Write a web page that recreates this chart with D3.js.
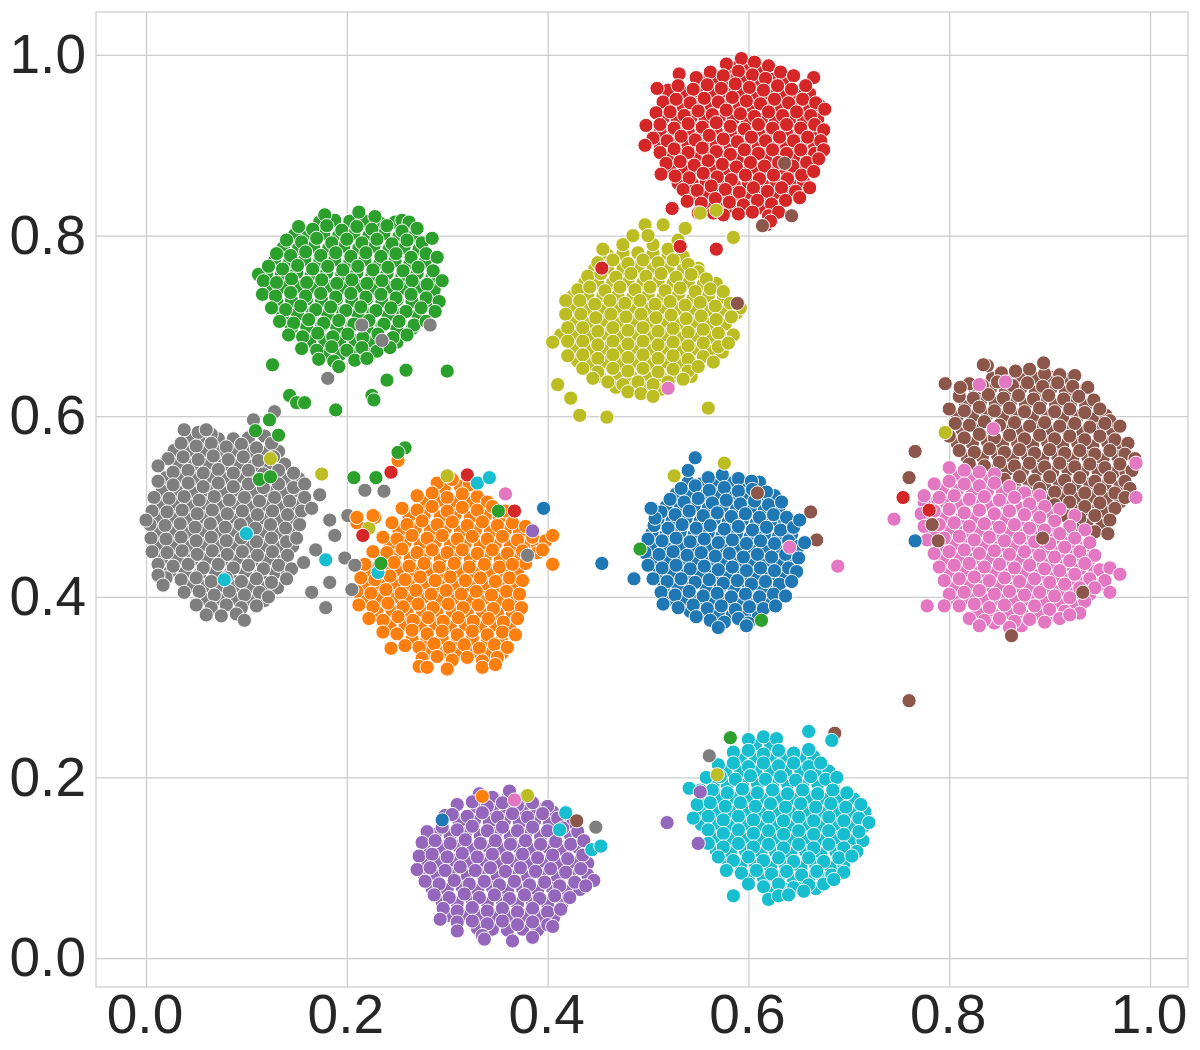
<!DOCTYPE html>
<html>
<head>
<meta charset="utf-8">
<script src="https://d3js.org/d3.v7.min.js"></script>
<style>
  html, body { margin: 0; padding: 0; background: #fff; }
  text { font-family: "Liberation Sans", Arial, sans-serif; }
</style>
</head>
<body>
<div id="chart"></div>
<script>
const tickValues = [0.0, 0.2, 0.4, 0.6, 0.8, 1.0];
const palette = ["#1f77b4", "#ff7f0e", "#2ca02c", "#d62728", "#9467bd", "#8c564b", "#e377c2", "#7f7f7f", "#bcbd22", "#17becf"];

// values, one list per class
const c0 = [[.56,.532],[.574,.535],[.59,.531],[.603,.528],[.533,.52],[.547,.523],[.561,.518],[.576,.521],[.59,.517],[.604,.519],[.618,.516],[.522,.508],[.536,.505],[.55,.509],[.564,.504],[.578,.507],[.592,.503],[.606,.506],[.62,.502],[.633,.505],[.513,.494],[.527,.491],[.541,.495],[.555,.49],[.569,.493],[.583,.489],[.597,.492],[.611,.488],[.625,.491],[.638,.488],[.506,.479],[.52,.476],[.534,.48],[.548,.476],[.562,.479],[.576,.475],[.59,.478],[.604,.474],[.618,.477],[.632,.474],[.645,.477],[.5,.464],[.514,.462],[.528,.465],[.542,.461],[.556,.464],[.57,.46],[.584,.463],[.598,.459],[.612,.462],[.626,.459],[.64,.462],[.65,.456],[.497,.449],[.511,.447],[.525,.45],[.539,.446],[.553,.449],[.567,.445],[.581,.448],[.595,.444],[.609,.447],[.623,.444],[.637,.447],[.65,.443],[.5,.435],[.514,.432],[.528,.435],[.542,.431],[.556,.434],[.57,.43],[.584,.433],[.598,.429],[.612,.432],[.626,.429],[.64,.432],[.648,.428],[.505,.42],[.519,.417],[.533,.42],[.547,.416],[.561,.419],[.575,.415],[.589,.418],[.603,.414],[.617,.417],[.631,.414],[.643,.417],[.513,.405],[.527,.402],[.541,.406],[.555,.401],[.569,.404],[.583,.4],[.597,.403],[.611,.4],[.625,.403],[.637,.401],[.515,.392],[.53,.388],[.545,.391],[.559,.387],[.573,.39],[.587,.386],[.601,.389],[.615,.387],[.627,.39],[.548,.378],[.562,.374],[.576,.372],[.59,.376],[.6,.371],[.57,.366],[.598,.368],[.507,.487],[.503,.498]];
const c0Fill = [[.54,.527],[.553,.525],[.568,.528],[.583,.526],[.597,.524],[.611,.527],[.528,.514],[.542,.515],[.556,.512],[.57,.514],[.584,.511],[.598,.513],[.612,.51],[.626,.512],[.518,.5],[.532,.498],[.546,.501],[.56,.498],[.574,.5],[.588,.497],[.602,.499],[.616,.496],[.63,.498],[.51,.486],[.524,.484],[.538,.487],[.552,.484],[.566,.486],[.58,.483],[.594,.485],[.608,.482],[.622,.484],[.636,.482],[.504,.471],[.518,.469],[.532,.472],[.546,.469],[.56,.471],[.574,.468],[.588,.47],[.602,.467],[.616,.469],[.63,.467],[.643,.469],[.504,.456],[.518,.454],[.532,.457],[.546,.454],[.56,.456],[.574,.453],[.588,.455],[.602,.452],[.616,.454],[.63,.452],[.644,.454],[.506,.441],[.52,.44],[.534,.442],[.548,.439],[.562,.441],[.576,.438],[.59,.44],[.604,.437],[.618,.44],[.632,.437],[.645,.439],[.51,.427],[.524,.425],[.538,.427],[.552,.424],[.566,.426],[.58,.423],[.594,.425],[.608,.422],[.622,.425],[.636,.422],[.516,.412],[.53,.41],[.544,.413],[.558,.409],[.572,.411],[.586,.408],[.6,.41],[.614,.408],[.628,.41],[.522,.397],[.536,.395],[.55,.398],[.564,.394],[.578,.396],[.592,.393],[.606,.396],[.62,.394],[.542,.384],[.556,.381],[.57,.383],[.584,.38],[.598,.382],[.61,.38]];
const c1 = [[.29,.526],[.305,.53],[.322,.524],[.27,.512],[.285,.515],[.3,.51],[.315,.514],[.33,.511],[.34,.505],[.255,.498],[.27,.496],[.285,.5],[.3,.495],[.315,.499],[.33,.496],[.345,.5],[.358,.495],[.245,.482],[.26,.48],[.275,.484],[.29,.48],[.305,.483],[.32,.479],[.335,.483],[.35,.479],[.365,.482],[.378,.478],[.236,.466],[.25,.464],[.265,.468],[.28,.465],[.295,.468],[.31,.464],[.325,.467],[.34,.464],[.355,.467],[.37,.463],[.385,.466],[.398,.462],[.226,.45],[.24,.449],[.255,.453],[.27,.449],[.285,.452],[.3,.449],[.315,.452],[.33,.448],[.345,.452],[.36,.448],[.375,.451],[.39,.449],[.378,.437],[.218,.436],[.232,.434],[.247,.438],[.262,.434],[.277,.437],[.292,.433],[.307,.437],[.322,.433],[.337,.436],[.352,.433],[.365,.436],[.214,.421],[.228,.419],[.243,.423],[.258,.419],[.273,.422],[.288,.418],[.303,.422],[.318,.418],[.333,.421],[.348,.417],[.362,.421],[.375,.418],[.21,.406],[.224,.404],[.239,.408],[.254,.404],[.269,.407],[.284,.403],[.299,.407],[.314,.403],[.329,.406],[.344,.402],[.359,.406],[.372,.403],[.212,.391],[.226,.389],[.241,.393],[.256,.389],[.271,.392],[.286,.388],[.301,.392],[.316,.388],[.331,.391],[.346,.387],[.361,.391],[.374,.388],[.222,.376],[.236,.374],[.251,.378],[.266,.374],[.281,.377],[.296,.373],[.311,.377],[.326,.373],[.341,.376],[.356,.372],[.37,.376],[.236,.361],[.25,.359],[.265,.363],[.28,.359],[.295,.362],[.31,.358],[.325,.362],[.34,.358],[.355,.361],[.368,.358],[.258,.346],[.272,.344],[.287,.348],[.302,.344],[.317,.347],[.332,.343],[.347,.347],[.36,.344],[.275,.332],[.29,.334],[.305,.33],[.32,.333],[.335,.329],[.35,.333],[.272,.323],[.28,.322],[.3,.32],[.335,.322],[.348,.325],[.395,.452],[.405,.468],[.228,.488],[.21,.482]];
const c1Fill = [[.297,.52],[.313,.522],[.278,.505],[.292,.507],[.308,.505],[.323,.506],[.336,.503],[.262,.489],[.277,.49],[.293,.489],[.308,.491],[.323,.488],[.338,.49],[.352,.488],[.252,.473],[.268,.475],[.283,.473],[.298,.475],[.313,.472],[.328,.474],[.343,.472],[.358,.474],[.372,.472],[.243,.458],[.258,.46],[.273,.458],[.288,.46],[.303,.457],[.318,.459],[.333,.457],[.348,.459],[.363,.457],[.378,.459],[.39,.457],[.233,.443],[.248,.445],[.263,.443],[.278,.445],[.293,.442],[.308,.444],[.323,.442],[.338,.444],[.353,.442],[.368,.444],[.222,.428],[.237,.428],[.252,.43],[.267,.428],[.282,.43],[.297,.427],[.312,.429],[.327,.427],[.342,.429],[.357,.427],[.37,.428],[.218,.413],[.233,.413],[.248,.415],[.263,.413],[.278,.415],[.293,.412],[.308,.414],[.323,.412],[.338,.414],[.353,.412],[.367,.413],[.218,.398],[.232,.398],[.247,.4],[.262,.398],[.277,.4],[.292,.397],[.307,.399],[.322,.397],[.337,.399],[.352,.397],[.367,.397],[.23,.383],[.245,.385],[.26,.383],[.275,.385],[.29,.382],[.305,.384],[.32,.382],[.335,.384],[.35,.382],[.365,.382],[.243,.368],[.258,.37],[.273,.368],[.288,.37],[.303,.367],[.318,.369],[.333,.367],[.348,.369],[.362,.367],[.265,.353],[.28,.353],[.295,.354],[.31,.352],[.325,.354],[.34,.352],[.354,.352],[.282,.339],[.297,.339],[.312,.338],[.327,.339],[.342,.337],[.355,.338]];
const c2 = [[.178,.823],[.212,.826],[.228,.821],[.255,.817],[.262,.815],[.152,.81],[.166,.807],[.18,.811],[.195,.806],[.21,.81],[.225,.807],[.24,.811],[.255,.805],[.27,.808],[.14,.795],[.155,.793],[.17,.797],[.185,.792],[.2,.796],[.215,.792],[.23,.796],[.245,.791],[.26,.795],[.275,.792],[.285,.797],[.13,.78],[.144,.778],[.159,.782],[.174,.778],[.189,.781],[.204,.777],[.219,.781],[.234,.777],[.249,.78],[.264,.776],[.279,.78],[.29,.776],[.112,.757],[.122,.766],[.136,.763],[.151,.767],[.166,.763],[.181,.766],[.196,.762],[.211,.766],[.226,.762],[.241,.765],[.256,.761],[.271,.765],[.286,.761],[.117,.75],[.13,.748],[.145,.752],[.16,.748],[.175,.751],[.19,.747],[.205,.751],[.22,.747],[.235,.75],[.25,.746],[.265,.75],[.28,.746],[.295,.75],[.116,.735],[.129,.733],[.144,.737],[.159,.733],[.174,.736],[.189,.732],[.204,.736],[.219,.732],[.234,.735],[.249,.731],[.264,.735],[.279,.731],[.292,.727],[.125,.72],[.139,.718],[.154,.722],[.169,.718],[.184,.721],[.199,.717],[.214,.721],[.229,.717],[.244,.72],[.259,.716],[.274,.72],[.288,.716],[.133,.705],[.147,.703],[.162,.707],[.177,.703],[.192,.706],[.207,.702],[.222,.706],[.237,.702],[.252,.705],[.267,.701],[.279,.705],[.142,.69],[.156,.688],[.171,.692],[.186,.688],[.201,.691],[.216,.687],[.231,.691],[.246,.687],[.26,.69],[.155,.675],[.17,.673],[.185,.677],[.2,.673],[.215,.676],[.23,.672],[.243,.676],[.172,.663],[.187,.661],[.192,.655],[.208,.662],[.22,.664]];
const c2Fill = [[.173,.815],[.188,.817],[.203,.816],[.218,.816],[.233,.814],[.248,.815],[.148,.801],[.162,.8],[.177,.802],[.192,.8],[.207,.802],[.222,.8],[.237,.802],[.252,.799],[.267,.8],[.137,.787],[.152,.786],[.167,.788],[.182,.786],[.197,.788],[.212,.786],[.227,.788],[.242,.785],[.257,.787],[.272,.785],[.128,.772],[.143,.771],[.158,.773],[.173,.771],[.188,.773],[.203,.771],[.218,.773],[.233,.77],[.248,.772],[.263,.77],[.278,.771],[.12,.758],[.135,.757],[.15,.759],[.165,.757],[.18,.759],[.195,.757],[.21,.759],[.225,.756],[.24,.758],[.255,.756],[.27,.758],[.285,.755],[.122,.742],[.137,.743],[.152,.744],[.167,.742],[.182,.744],[.197,.742],[.212,.744],[.227,.741],[.242,.743],[.257,.741],[.272,.743],[.287,.74],[.13,.728],[.145,.728],[.16,.73],[.175,.728],[.19,.73],[.205,.728],[.22,.73],[.235,.727],[.25,.729],[.265,.727],[.28,.728],[.136,.712],[.151,.713],[.166,.715],[.181,.713],[.196,.715],[.211,.713],[.226,.715],[.241,.712],[.256,.714],[.271,.712],[.145,.698],[.16,.699],[.175,.7],[.19,.698],[.205,.7],[.22,.698],[.235,.7],[.25,.697],[.265,.697],[.163,.683],[.178,.684],[.193,.683],[.208,.684],[.223,.682],[.238,.684],[.25,.682],[.178,.668],[.193,.668],[.208,.668],[.223,.668]];
const c3 = [[.578,.99],[.593,.996],[.606,.992],[.62,.988],[.531,.979],[.548,.975],[.562,.981],[.575,.977],[.59,.982],[.604,.978],[.617,.974],[.632,.981],[.645,.977],[.665,.975],[.52,.961],[.53,.966],[.545,.962],[.559,.967],[.573,.963],[.587,.968],[.601,.964],[.615,.961],[.629,.966],[.643,.962],[.657,.966],[.509,.963],[.515,.948],[.528,.951],[.542,.947],[.556,.952],[.57,.948],[.584,.953],[.598,.949],[.612,.946],[.626,.951],[.64,.947],[.654,.951],[.667,.947],[.508,.936],[.522,.937],[.536,.933],[.55,.938],[.564,.934],[.578,.939],[.592,.935],[.606,.932],[.62,.937],[.634,.933],[.648,.937],[.662,.933],[.676,.94],[.498,.922],[.512,.923],[.526,.919],[.54,.924],[.554,.92],[.568,.925],[.582,.921],[.596,.918],[.61,.923],[.624,.919],[.638,.923],[.652,.919],[.666,.923],[.675,.917],[.505,.908],[.519,.905],[.533,.91],[.547,.906],[.561,.911],[.575,.907],[.589,.904],[.603,.909],[.617,.905],[.631,.909],[.645,.905],[.659,.909],[.672,.905],[.497,.9],[.512,.892],[.526,.896],[.54,.892],[.554,.897],[.568,.893],[.582,.89],[.596,.895],[.61,.891],[.624,.895],[.638,.891],[.652,.895],[.666,.891],[.675,.895],[.518,.88],[.532,.882],[.546,.878],[.56,.883],[.574,.879],[.588,.876],[.602,.881],[.616,.877],[.63,.881],[.644,.877],[.658,.881],[.67,.885],[.513,.868],[.527,.866],[.541,.864],[.555,.869],[.569,.865],[.583,.862],[.597,.867],[.611,.863],[.625,.867],[.639,.863],[.653,.867],[.665,.871],[.535,.851],[.549,.85],[.563,.855],[.577,.851],[.591,.848],[.605,.853],[.619,.849],[.633,.853],[.647,.849],[.661,.853],[.539,.838],[.553,.836],[.567,.841],[.581,.837],[.595,.834],[.609,.839],[.623,.835],[.637,.839],[.651,.842],[.55,.825],[.565,.825],[.575,.823],[.59,.824],[.604,.826],[.62,.822],[.63,.826],[.618,.812],[.622,.816]];
const c3Fill = [[.584,.986],[.599,.988],[.612,.984],[.555,.972],[.568,.974],[.582,.972],[.596,.974],[.61,.971],[.624,.973],[.638,.971],[.536,.958],[.55,.959],[.564,.957],[.578,.959],[.592,.957],[.606,.958],[.62,.956],[.634,.958],[.648,.956],[.661,.957],[.522,.944],[.535,.943],[.549,.945],[.563,.943],[.577,.945],[.591,.943],[.605,.94],[.619,.943],[.633,.941],[.647,.943],[.661,.941],[.672,.943],[.515,.93],[.529,.929],[.543,.931],[.557,.929],[.571,.931],[.585,.929],[.599,.926],[.613,.929],[.627,.927],[.641,.929],[.655,.927],[.669,.929],[.512,.915],[.526,.913],[.54,.915],[.554,.913],[.568,.915],[.582,.913],[.596,.911],[.61,.914],[.624,.912],[.638,.914],[.652,.912],[.666,.914],[.512,.9],[.526,.902],[.54,.9],[.554,.902],[.568,.9],[.582,.898],[.596,.901],[.61,.899],[.624,.901],[.638,.899],[.652,.901],[.666,.899],[.519,.887],[.533,.889],[.547,.887],[.561,.889],[.575,.887],[.589,.884],[.603,.887],[.617,.885],[.631,.887],[.645,.885],[.659,.887],[.522,.873],[.536,.872],[.55,.874],[.564,.872],[.578,.874],[.592,.871],[.606,.874],[.62,.872],[.634,.874],[.648,.872],[.66,.874],[.53,.858],[.544,.858],[.558,.86],[.572,.858],[.586,.856],[.6,.859],[.614,.857],[.628,.859],[.642,.857],[.655,.859],[.545,.844],[.559,.844],[.573,.846],[.587,.843],[.601,.845],[.615,.843],[.629,.845],[.642,.845],[.558,.831],[.573,.83],[.587,.83],[.601,.832],[.615,.83],[.628,.832]];
const c4 = [[.332,.182],[.362,.185],[.378,.178],[.31,.17],[.325,.173],[.34,.168],[.355,.172],[.37,.169],[.385,.172],[.4,.168],[.298,.158],[.305,.159],[.32,.157],[.335,.161],[.35,.156],[.365,.16],[.38,.156],[.395,.16],[.41,.155],[.425,.15],[.28,.14],[.295,.145],[.31,.142],[.325,.146],[.34,.141],[.355,.145],[.37,.141],[.385,.145],[.4,.141],[.415,.144],[.43,.14],[.275,.128],[.288,.13],[.303,.127],[.318,.131],[.333,.127],[.348,.13],[.363,.126],[.378,.13],[.393,.126],[.408,.129],[.423,.126],[.436,.13],[.272,.113],[.285,.115],[.3,.112],[.315,.116],[.33,.112],[.345,.115],[.36,.111],[.375,.115],[.39,.111],[.405,.114],[.42,.11],[.435,.114],[.27,.098],[.283,.1],[.298,.097],[.313,.101],[.328,.097],[.343,.1],[.358,.096],[.373,.1],[.388,.096],[.403,.099],[.418,.095],[.433,.099],[.446,.086],[.278,.085],[.292,.082],[.307,.086],[.322,.082],[.337,.085],[.352,.081],[.367,.085],[.382,.081],[.397,.084],[.412,.08],[.427,.084],[.438,.08],[.287,.07],[.302,.067],[.317,.071],[.332,.067],[.347,.07],[.362,.066],[.377,.07],[.392,.066],[.407,.069],[.422,.067],[.296,.055],[.31,.052],[.325,.056],[.34,.052],[.355,.055],[.37,.051],[.385,.055],[.4,.051],[.413,.054],[.293,.043],[.31,.04],[.325,.041],[.34,.038],[.355,.041],[.37,.037],[.385,.04],[.4,.037],[.31,.03],[.335,.025],[.337,.021],[.365,.019],[.385,.023],[.405,.035]];
const c4Fill = [[.345,.178],[.36,.177],[.33,.165],[.345,.164],[.36,.166],[.375,.163],[.39,.165],[.405,.162],[.312,.151],[.327,.152],[.342,.15],[.357,.152],[.372,.15],[.387,.152],[.402,.149],[.417,.151],[.288,.137],[.303,.136],[.318,.138],[.333,.136],[.348,.138],[.363,.135],[.378,.137],[.393,.135],[.408,.137],[.423,.135],[.281,.121],[.296,.122],[.311,.124],[.326,.121],[.341,.123],[.356,.121],[.371,.123],[.386,.12],[.401,.122],[.416,.12],[.431,.122],[.278,.106],[.292,.106],[.307,.108],[.322,.106],[.337,.108],[.352,.105],[.367,.107],[.382,.105],[.397,.107],[.412,.104],[.427,.106],[.44,.105],[.277,.092],[.29,.091],[.305,.093],[.32,.091],[.335,.093],[.35,.09],[.365,.092],[.38,.09],[.395,.092],[.41,.089],[.425,.091],[.44,.092],[.285,.077],[.3,.076],[.315,.078],[.33,.076],[.345,.078],[.36,.075],[.375,.077],[.39,.075],[.405,.077],[.42,.074],[.432,.076],[.295,.062],[.31,.061],[.325,.063],[.34,.061],[.355,.063],[.37,.06],[.385,.062],[.4,.06],[.415,.062],[.303,.047],[.318,.047],[.333,.047],[.348,.047],[.363,.046],[.378,.047],[.393,.046],[.406,.045],[.33,.033],[.345,.032],[.36,.031],[.375,.032],[.39,.031]];
const c5 = [[.838,.656],[.852,.648],[.866,.65],[.88,.652],[.895,.647],[.91,.646],[.925,.645],[.82,.636],[.833,.634],[.848,.638],[.863,.634],[.878,.637],[.893,.633],[.908,.637],[.923,.633],[.938,.632],[.81,.622],[.824,.62],[.839,.624],[.854,.62],[.869,.623],[.884,.619],[.899,.623],[.914,.619],[.929,.622],[.944,.618],[.8,.608],[.815,.606],[.83,.61],[.845,.606],[.86,.609],[.875,.605],[.89,.609],[.905,.605],[.92,.608],[.935,.604],[.95,.608],[.96,.595],[.806,.592],[.82,.59],[.835,.594],[.85,.59],[.865,.593],[.88,.589],[.895,.593],[.91,.589],[.925,.592],[.94,.588],[.955,.592],[.97,.589],[.8,.578],[.815,.576],[.83,.58],[.845,.576],[.86,.579],[.875,.575],[.89,.579],[.905,.575],[.92,.578],[.935,.574],[.95,.578],[.965,.574],[.978,.57],[.81,.562],[.825,.56],[.84,.564],[.855,.56],[.87,.563],[.885,.559],[.9,.563],[.915,.559],[.93,.562],[.945,.558],[.96,.562],[.975,.558],[.985,.553],[.82,.547],[.835,.545],[.85,.549],[.865,.545],[.88,.548],[.895,.544],[.91,.548],[.925,.544],[.94,.547],[.955,.543],[.97,.547],[.982,.54],[.84,.531],[.855,.53],[.87,.533],[.885,.529],[.9,.533],[.915,.529],[.93,.532],[.945,.528],[.96,.532],[.975,.528],[.98,.52],[.86,.518],[.875,.516],[.89,.52],[.905,.516],[.92,.519],[.935,.515],[.95,.519],[.965,.515],[.975,.51],[.89,.504],[.905,.502],[.92,.505],[.935,.5],[.95,.504],[.965,.498],[.915,.49],[.93,.487],[.945,.49],[.96,.485],[.925,.475],[.945,.472],[.958,.47]];
const c5Fill = [[.843,.642],[.858,.643],[.872,.644],[.887,.642],[.902,.643],[.917,.641],[.826,.628],[.841,.63],[.856,.628],[.871,.63],[.886,.627],[.901,.63],[.916,.627],[.931,.627],[.816,.614],[.831,.616],[.846,.614],[.861,.616],[.876,.613],[.891,.616],[.906,.613],[.921,.615],[.936,.612],[.808,.6],[.823,.6],[.838,.602],[.853,.599],[.868,.601],[.883,.598],[.898,.601],[.913,.598],[.928,.6],[.943,.597],[.956,.601],[.813,.585],[.828,.586],[.843,.584],[.858,.586],[.873,.583],[.888,.586],[.903,.583],[.918,.585],[.933,.582],[.948,.585],[.963,.583],[.808,.57],[.823,.57],[.838,.572],[.853,.569],[.868,.571],[.883,.568],[.898,.571],[.913,.568],[.928,.57],[.943,.567],[.958,.57],[.972,.567],[.818,.554],[.833,.555],[.848,.557],[.863,.554],[.878,.556],[.893,.553],[.908,.556],[.923,.553],[.938,.555],[.953,.552],[.968,.555],[.828,.54],[.843,.54],[.858,.541],[.873,.539],[.888,.541],[.903,.538],[.918,.541],[.933,.538],[.948,.54],[.963,.537],[.976,.538],[.85,.525],[.865,.525],[.88,.525],[.895,.523],[.91,.525],[.925,.523],[.94,.525],[.955,.523],[.97,.522],[.882,.511],[.897,.51],[.912,.511],[.927,.509],[.942,.511],[.957,.509],[.97,.505],[.908,.497],[.923,.496],[.938,.497],[.953,.495],[.92,.482],[.937,.48],[.952,.479]];
const c6 = [[.8,.543],[.815,.54],[.83,.538],[.845,.536],[.785,.525],[.8,.528],[.815,.525],[.83,.523],[.845,.526],[.86,.522],[.875,.515],[.89,.512],[.775,.505],[.775,.512],[.79,.51],[.805,.512],[.82,.508],[.835,.511],[.85,.507],[.865,.51],[.88,.503],[.895,.5],[.91,.497],[.925,.49],[.772,.492],[.785,.495],[.8,.497],[.815,.493],[.83,.496],[.845,.492],[.86,.495],[.875,.491],[.89,.488],[.905,.484],[.92,.478],[.935,.474],[.775,.478],[.79,.48],[.805,.482],[.82,.478],[.835,.481],[.85,.477],[.865,.48],[.88,.476],[.895,.474],[.91,.47],[.925,.465],[.94,.46],[.778,.463],[.795,.465],[.81,.467],[.825,.463],[.84,.466],[.855,.462],[.87,.465],[.885,.461],[.9,.459],[.915,.455],[.93,.45],[.945,.446],[.785,.448],[.8,.45],[.815,.452],[.83,.448],[.845,.451],[.86,.447],[.875,.45],[.89,.446],[.905,.444],[.92,.44],[.935,.437],[.95,.43],[.96,.432],[.79,.433],[.805,.435],[.82,.437],[.835,.433],[.85,.436],[.865,.432],[.88,.435],[.895,.431],[.91,.429],[.925,.425],[.94,.42],[.955,.418],[.97,.425],[.795,.418],[.81,.42],[.825,.422],[.84,.418],[.855,.421],[.87,.417],[.885,.42],[.9,.416],[.915,.414],[.93,.41],[.945,.41],[.96,.405],[.8,.403],[.815,.405],[.83,.407],[.845,.403],[.86,.406],[.875,.402],[.89,.405],[.905,.401],[.92,.399],[.935,.395],[.778,.39],[.795,.39],[.81,.39],[.825,.392],[.84,.388],[.855,.391],[.87,.387],[.885,.39],[.9,.386],[.915,.384],[.93,.382],[.82,.376],[.835,.374],[.85,.376],[.865,.373],[.88,.375],[.895,.372],[.91,.376],[.92,.38],[.83,.368],[.86,.366]];
const c6Fill = [[.808,.534],[.823,.532],[.838,.531],[.793,.519],[.808,.518],[.823,.517],[.838,.517],[.853,.516],[.868,.515],[.782,.503],[.797,.504],[.812,.502],[.827,.504],[.842,.5],[.857,.502],[.872,.498],[.887,.495],[.902,.491],[.782,.488],[.797,.489],[.812,.487],[.827,.488],[.842,.485],[.857,.487],[.872,.484],[.887,.481],[.902,.477],[.917,.472],[.785,.471],[.8,.473],[.815,.472],[.83,.473],[.845,.47],[.86,.472],[.875,.469],[.89,.467],[.905,.464],[.92,.46],[.935,.455],[.79,.456],[.805,.458],[.82,.457],[.835,.458],[.85,.455],[.865,.457],[.88,.454],[.895,.452],[.91,.45],[.925,.446],[.94,.442],[.795,.441],[.81,.443],[.825,.442],[.84,.443],[.855,.44],[.87,.442],[.885,.439],[.9,.437],[.915,.435],[.93,.431],[.945,.428],[.8,.426],[.815,.428],[.83,.427],[.845,.428],[.86,.425],[.875,.427],[.89,.424],[.905,.422],[.92,.42],[.935,.416],[.95,.414],[.805,.411],[.82,.413],[.835,.412],[.85,.412],[.865,.41],[.88,.412],[.895,.409],[.91,.407],[.925,.404],[.94,.403],[.805,.397],[.82,.398],[.835,.397],[.85,.397],[.865,.395],[.88,.397],[.895,.394],[.91,.393],[.925,.39],[.828,.383],[.843,.382],[.858,.383],[.873,.381],[.888,.382],[.903,.38],[.845,.371],[.872,.368]];
const c7 = [[.038,.585],[.052,.582],[.065,.58],[.035,.57],[.05,.567],[.065,.57],[.08,.566],[.095,.569],[.11,.565],[.125,.57],[.022,.553],[.037,.555],[.052,.552],[.067,.556],[.082,.552],[.097,.555],[.112,.551],[.127,.555],[.012,.545],[.027,.538],[.042,.54],[.057,.537],[.072,.541],[.087,.537],[.102,.54],[.117,.536],[.132,.54],[.147,.537],[.012,.528],[.027,.524],[.042,.526],[.057,.522],[.072,.526],[.087,.522],[.102,.525],[.117,.521],[.132,.525],[.147,.521],[.158,.525],[.008,.51],[.023,.509],[.038,.511],[.053,.507],[.068,.511],[.083,.507],[.098,.51],[.113,.506],[.128,.51],[.143,.506],[.158,.51],[.006,.495],[.021,.494],[.036,.496],[.051,.492],[.066,.496],[.081,.492],[.096,.495],[.111,.491],[.126,.495],[.141,.491],[.155,.495],[.004,.48],[.019,.479],[.034,.481],[.049,.477],[.064,.481],[.079,.477],[.094,.48],[.109,.476],[.124,.48],[.139,.476],[.153,.48],[.005,.465],[.02,.464],[.035,.466],[.05,.462],[.065,.466],[.08,.462],[.095,.465],[.11,.461],[.125,.465],[.14,.461],[.15,.465],[.006,.45],[.021,.449],[.036,.451],[.051,.447],[.066,.451],[.081,.447],[.096,.45],[.111,.446],[.126,.45],[.141,.446],[.012,.436],[.027,.434],[.042,.436],[.057,.432],[.072,.436],[.087,.432],[.102,.435],[.117,.431],[.132,.435],[.145,.431],[.02,.421],[.035,.419],[.05,.421],[.065,.417],[.08,.421],[.095,.417],[.11,.42],[.125,.416],[.14,.42],[.038,.405],[.053,.406],[.068,.402],[.083,.406],[.098,.402],[.113,.405],[.122,.4],[.05,.391],[.065,.388],[.08,.391],[.095,.388],[.11,.39],[.06,.38],[.075,.379],[.09,.381],[0,.485],[.012,.424],[.017,.413],[.098,.374],[.128,.605],[.107,.596],[.179,.388],[.165,.405],[.205,.408],[.183,.416],[.169,.452],[.188,.468],[.201,.49],[.173,.513],[.165,.498],[.183,.485],[.198,.443],[.218,.518],[.237,.517],[.208,.435],[.157,.438],[.06,.585]];
const c7Fill = [[.045,.576],[.058,.576],[.072,.575],[.087,.575],[.102,.576],[.118,.578],[.028,.562],[.043,.561],[.058,.562],[.073,.561],[.088,.561],[.103,.561],[.118,.56],[.132,.561],[.032,.547],[.047,.547],[.062,.547],[.077,.546],[.092,.547],[.107,.545],[.122,.546],[.138,.547],[.02,.532],[.035,.533],[.05,.531],[.065,.533],[.08,.531],[.095,.533],[.11,.53],[.125,.532],[.14,.53],[.152,.531],[.016,.517],[.031,.517],[.046,.516],[.061,.518],[.076,.516],[.091,.518],[.106,.515],[.121,.517],[.136,.515],[.151,.517],[.014,.502],[.029,.503],[.044,.501],[.059,.503],[.074,.501],[.089,.503],[.104,.5],[.119,.502],[.134,.5],[.149,.502],[.012,.487],[.027,.487],[.042,.486],[.057,.488],[.072,.486],[.087,.488],[.102,.485],[.117,.487],[.132,.485],[.147,.487],[.012,.472],[.027,.472],[.042,.471],[.057,.473],[.072,.471],[.087,.473],[.102,.47],[.117,.472],[.132,.47],[.147,.472],[.013,.457],[.028,.457],[.043,.456],[.058,.458],[.073,.456],[.088,.458],[.103,.455],[.118,.457],[.133,.455],[.146,.456],[.016,.442],[.031,.442],[.046,.441],[.061,.443],[.076,.441],[.091,.443],[.106,.44],[.121,.442],[.136,.44],[.024,.428],[.039,.427],[.054,.426],[.069,.428],[.084,.426],[.099,.428],[.114,.425],[.129,.427],[.141,.426],[.044,.412],[.059,.412],[.074,.411],[.089,.412],[.104,.411],[.119,.411],[.131,.41],[.06,.397],[.075,.397],[.09,.397],[.105,.396],[.118,.396]];
const c8 = [[.455,.785],[.475,.79],[.505,.79],[.52,.785],[.45,.77],[.465,.773],[.48,.769],[.495,.773],[.51,.77],[.525,.773],[.54,.768],[.55,.76],[.44,.755],[.453,.758],[.468,.754],[.483,.758],[.498,.755],[.513,.758],[.528,.754],[.543,.757],[.558,.752],[.43,.74],[.442,.743],[.457,.739],[.472,.743],[.487,.74],[.502,.743],[.517,.739],[.532,.742],[.547,.738],[.562,.741],[.575,.738],[.418,.728],[.432,.728],[.447,.724],[.462,.728],[.477,.725],[.492,.728],[.507,.724],[.522,.727],[.537,.723],[.552,.726],[.567,.722],[.582,.725],[.592,.72],[.418,.713],[.433,.713],[.448,.709],[.463,.713],[.478,.71],[.493,.713],[.508,.709],[.523,.712],[.538,.708],[.553,.711],[.568,.707],[.583,.71],[.42,.698],[.435,.698],[.45,.694],[.465,.698],[.48,.695],[.495,.698],[.51,.694],[.525,.697],[.54,.693],[.555,.696],[.57,.692],[.585,.69],[.405,.682],[.42,.683],[.435,.683],[.45,.679],[.465,.683],[.48,.68],[.495,.683],[.51,.679],[.525,.682],[.54,.678],[.555,.681],[.57,.677],[.58,.681],[.42,.667],[.435,.668],[.45,.664],[.465,.668],[.48,.665],[.495,.668],[.51,.664],[.525,.667],[.54,.663],[.555,.666],[.565,.66],[.435,.653],[.45,.649],[.465,.653],[.48,.65],[.495,.653],[.51,.649],[.525,.652],[.54,.65],[.55,.655],[.445,.642],[.46,.638],[.475,.635],[.49,.638],[.505,.635],[.52,.638],[.535,.641],[.48,.627],[.493,.625],[.505,.622],[.41,.635],[.423,.62],[.432,.601],[.459,.599],[.56,.609],[.405,.682],[.497,.812],[.515,.812],[.537,.808],[.552,.825],[.585,.798],[.568,.828],[.5,.8],[.485,.8],[.53,.795]];
const c8Fill = [[.46,.778],[.475,.78],[.49,.781],[.505,.78],[.52,.778],[.535,.777],[.447,.763],[.46,.764],[.475,.763],[.49,.765],[.505,.763],[.52,.765],[.535,.762],[.55,.764],[.437,.748],[.45,.748],[.465,.748],[.48,.749],[.495,.748],[.51,.749],[.525,.747],[.54,.748],[.555,.746],[.568,.747],[.425,.733],[.44,.734],[.455,.733],[.47,.734],[.485,.732],[.5,.734],[.515,.732],[.53,.734],[.545,.731],[.56,.733],[.575,.731],[.425,.719],[.44,.719],[.455,.718],[.47,.719],[.485,.717],[.5,.719],[.515,.717],[.53,.719],[.545,.716],[.56,.718],[.575,.716],[.588,.714],[.427,.704],[.442,.703],[.457,.705],[.472,.703],[.487,.705],[.502,.703],[.517,.705],[.532,.702],[.547,.704],[.562,.702],[.577,.702],[.413,.69],[.428,.689],[.443,.689],[.458,.691],[.473,.688],[.488,.69],[.503,.688],[.518,.69],[.533,.687],[.548,.689],[.563,.687],[.578,.686],[.428,.675],[.443,.673],[.458,.675],[.473,.673],[.488,.675],[.503,.673],[.518,.675],[.533,.672],[.548,.674],[.563,.672],[.574,.671],[.43,.661],[.443,.658],[.458,.66],[.473,.658],[.488,.66],[.503,.658],[.518,.66],[.533,.657],[.548,.659],[.452,.644],[.468,.644],[.483,.644],[.498,.644],[.513,.643],[.528,.645],[.543,.644],[.468,.632],[.483,.631],[.498,.631],[.513,.63]];
const c9 = [[.6,.242],[.615,.245],[.628,.243],[.585,.228],[.6,.23],[.615,.226],[.63,.23],[.645,.227],[.66,.231],[.57,.214],[.585,.216],[.6,.212],[.615,.216],[.63,.213],[.645,.216],[.66,.212],[.672,.216],[.558,.2],[.572,.201],[.587,.198],[.602,.202],[.617,.198],[.632,.201],[.647,.197],[.662,.201],[.677,.198],[.688,.2],[.552,.186],[.564,.186],[.579,.183],[.594,.187],[.609,.183],[.624,.186],[.639,.182],[.654,.186],[.669,.182],[.684,.186],[.698,.183],[.541,.188],[.549,.17],[.562,.172],[.577,.168],[.592,.172],[.607,.168],[.622,.171],[.637,.167],[.652,.171],[.667,.167],[.682,.171],[.697,.167],[.712,.17],[.545,.155],[.56,.157],[.575,.153],[.59,.157],[.605,.153],[.62,.156],[.635,.152],[.65,.156],[.665,.152],[.68,.156],[.695,.152],[.71,.155],[.72,.15],[.56,.142],[.575,.138],[.59,.142],[.605,.138],[.62,.141],[.635,.137],[.65,.141],[.665,.137],[.68,.141],[.695,.137],[.71,.14],[.56,.127],[.575,.123],[.59,.127],[.605,.123],[.62,.126],[.635,.122],[.65,.126],[.665,.122],[.68,.126],[.695,.122],[.708,.118],[.57,.112],[.585,.108],[.6,.112],[.615,.108],[.63,.111],[.645,.107],[.66,.111],[.675,.107],[.69,.111],[.703,.113],[.578,.097],[.593,.094],[.608,.097],[.623,.093],[.638,.096],[.653,.092],[.668,.096],[.683,.092],[.695,.095],[.6,.082],[.615,.079],[.63,.082],[.645,.078],[.66,.081],[.675,.082],[.685,.087],[.62,.065],[.63,.069],[.64,.07],[.655,.074],[.585,.069]];
const c9Fill = [[.607,.236],[.622,.237],[.592,.222],[.607,.222],[.622,.221],[.637,.222],[.652,.222],[.665,.223],[.577,.207],[.592,.207],[.607,.207],[.622,.208],[.637,.207],[.652,.208],[.667,.206],[.68,.207],[.565,.193],[.579,.192],[.594,.192],[.609,.193],[.624,.192],[.639,.193],[.654,.191],[.669,.193],[.684,.191],[.557,.178],[.572,.178],[.587,.177],[.602,.179],[.617,.176],[.632,.178],[.647,.176],[.662,.178],[.677,.176],[.692,.177],[.705,.176],[.554,.163],[.568,.163],[.583,.162],[.598,.164],[.613,.161],[.628,.163],[.643,.161],[.658,.163],[.673,.161],[.688,.163],[.703,.161],[.716,.162],[.553,.148],[.568,.148],[.583,.147],[.598,.149],[.613,.146],[.628,.148],[.643,.146],[.658,.148],[.673,.146],[.688,.148],[.703,.146],[.715,.146],[.567,.134],[.582,.132],[.597,.134],[.612,.131],[.627,.133],[.642,.131],[.657,.133],[.672,.131],[.687,.133],[.702,.131],[.714,.13],[.568,.119],[.582,.117],[.597,.119],[.612,.116],[.627,.118],[.642,.116],[.657,.118],[.672,.116],[.687,.118],[.7,.118],[.58,.104],[.592,.103],[.607,.104],[.622,.101],[.637,.103],[.652,.101],[.667,.103],[.682,.101],[.695,.103],[.6,.09],[.615,.088],[.63,.089],[.645,.086],[.66,.088],[.675,.088],[.686,.09],[.622,.075],[.637,.076],[.652,.078],[.667,.077]];

// odd points sitting inside or between the clusters: x, y, class index
const strays = [[.1,.47,9],[.078,.419,9],[.179,.441,9],[.231,.427,9],[.124,.553,8],[.175,.536,8],[.113,.53,2],[.124,.533,2],[.207,.532,2],[.229,.532,2],[.109,.584,2],[.132,.579,2],[.123,.596,2],[.189,.607,2],[.405,.436,1],[.251,.551,1],[.258,.565,2],[.251,.56,2],[.244,.538,3],[.32,.535,3],[.367,.495,3],[.3,.534,8],[.222,.476,8],[.33,.526,9],[.342,.532,9],[.358,.514,6],[.351,.495,2],[.396,.498,0],[.454,.437,0],[.38,.446,7],[.385,.473,4],[.216,.468,3],[.226,.49,1],[.21,.488,1],[.244,.343,1],[.234,.437,2],[.576,.548,8],[.526,.534,8],[.547,.554,0],[.54,.54,0],[.486,.42,0],[.662,.494,5],[.668,.463,5],[.689,.434,6],[.613,.374,2],[.609,.515,5],[.641,.455,6],[.651,.485,0],[.656,.46,0],[.492,.453,2],[.754,.51,3],[.78,.496,3],[.766,.462,0],[.745,.486,6],[.986,.548,6],[.986,.51,6],[.796,.582,8],[.862,.357,5],[.76,.285,5],[.76,.532,5],[.766,.561,5],[.796,.636,5],[.811,.632,5],[.834,.657,5],[.894,.659,5],[.783,.48,5],[.789,.462,5],[.893,.465,5],[.933,.405,5],[.856,.638,6],[.83,.635,6],[.844,.586,6],[.636,.88,5],[.614,.811,5],[.643,.822,5],[.589,.725,5],[.524,.83,3],[.532,.788,3],[.568,.785,3],[.454,.764,3],[.52,.631,6],[.126,.657,2],[.143,.623,2],[.15,.615,2],[.158,.615,2],[.225,.623,2],[.227,.618,2],[.24,.64,2],[.259,.651,2],[.3,.65,2],[.181,.642,7],[.215,.701,7],[.235,.684,7],[.283,.701,7],[.412,.142,9],[.444,.12,9],[.453,.124,9],[.418,.161,9],[.448,.145,7],[.429,.152,5],[.335,.179,1],[.38,.18,8],[.367,.175,6],[.295,.153,0],[.519,.15,4],[.55,.127,4],[.552,.184,4],[.582,.244,2],[.569,.203,8],[.561,.224,7],[.686,.249,5],[.66,.251,9],[.683,.241,9]];

const clusters = [c0Fill.concat(c0), c1Fill.concat(c1), c2Fill.concat(c2), c3Fill.concat(c3), c4Fill.concat(c4), c5Fill.concat(c5), c6Fill.concat(c6), c7Fill.concat(c7), c8Fill.concat(c8), c9Fill.concat(c9)];

const width = 1200, height = 1050;
const margin = { top: 12, right: 12, bottom: 63, left: 96 };

const svg = d3.select("#chart").append("svg")
  .attr("width", width)
  .attr("height", height);

const x = d3.scaleLinear().domain([-0.0498, 1.0378]).range([margin.left, width - margin.right]);
const y = d3.scaleLinear().domain([-0.032, 1.0476]).range([height - margin.bottom, margin.top]);

const fmt = d3.format(".1f");

const xAxis = svg.append("g")
  .attr("transform", `translate(0,${height - margin.bottom})`)
  .call(d3.axisBottom(x).tickValues(tickValues).tickFormat(fmt)
    .tickSize(-(height - margin.top - margin.bottom)).tickPadding(7));

const yAxis = svg.append("g")
  .attr("transform", `translate(${margin.left},0)`)
  .call(d3.axisLeft(y).tickValues(tickValues).tickFormat(fmt)
    .tickSize(-(width - margin.left - margin.right)).tickPadding(10));

[xAxis, yAxis].forEach(ax => {
  ax.select(".domain").remove();
  ax.selectAll("line").attr("stroke", "#cccccc").attr("stroke-width", 1.25);
  ax.selectAll("text").attr("fill", "#262626").attr("font-size", 55);
});
xAxis.selectAll("text").attr("dx", -1.5);

// frame
svg.append("rect")
  .attr("x", margin.left)
  .attr("y", margin.top)
  .attr("width", width - margin.left - margin.right)
  .attr("height", height - margin.top - margin.bottom)
  .attr("fill", "none")
  .attr("stroke", "#cccccc")
  .attr("stroke-width", 1.25);

const plotPoints = (rows, color) => {
  svg.append("g").selectAll("circle")
    .data(rows)
    .join("circle")
    .attr("cx", d => x(d[0]))
    .attr("cy", d => y(d[1]))
    .attr("r", 7.1)
    .attr("fill", color)
    .attr("stroke", "#fff")
    .attr("stroke-width", 1);
};

clusters.forEach((rows, i) => plotPoints(rows, palette[i]));

svg.append("g").selectAll("circle")
  .data(strays)
  .join("circle")
  .attr("cx", d => x(d[0]))
  .attr("cy", d => y(d[1]))
  .attr("r", 7.1)
  .attr("fill", d => palette[d[2]])
  .attr("stroke", "#fff")
  .attr("stroke-width", 1);
</script>
</body>
</html>
